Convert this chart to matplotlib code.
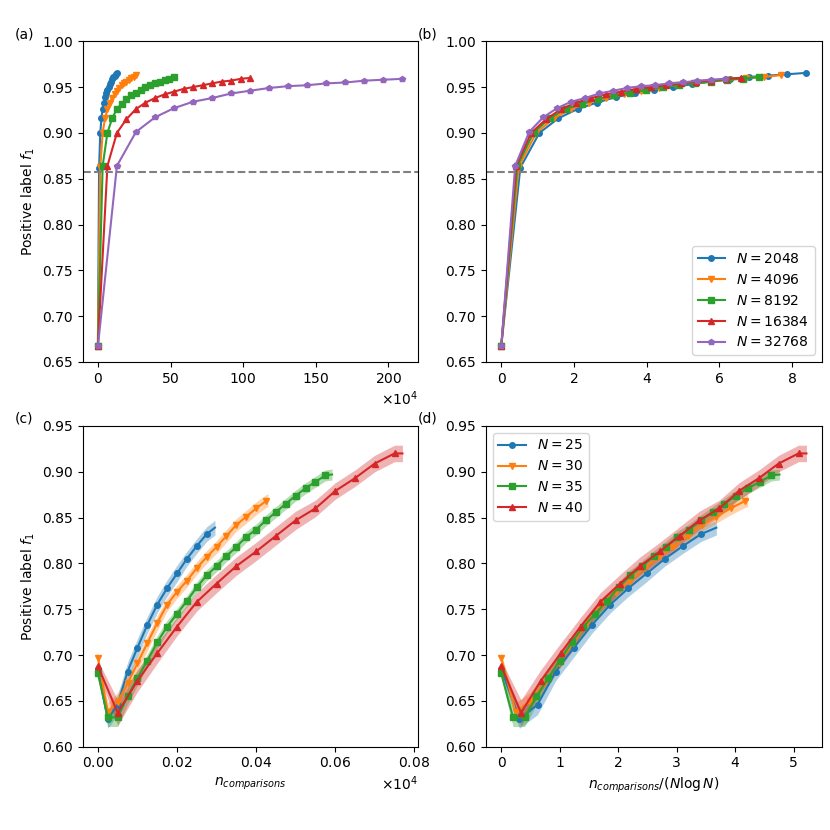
import numpy as np
import matplotlib
matplotlib.use("Agg")
import matplotlib.pyplot as plt

# ---- top row: large N, f1 after each round of 4N comparisons
sizes_big = [2048, 4096, 8192, 16384, 32768]
rounds = [0, 1, 2, 3, 4, 5, 6, 7, 8, 9, 10, 11, 12, 13, 14, 15, 16]
f1_big = {
    2048:  [0.667, 0.862, 0.900, 0.916, 0.926, 0.933, 0.939, 0.943, 0.947,
            0.950, 0.953, 0.956, 0.959, 0.961, 0.9625, 0.964, 0.9655],
    4096:  [0.667, 0.863, 0.900, 0.916, 0.926, 0.933, 0.938, 0.942, 0.946,
            0.949, 0.952, 0.954, 0.956, 0.958, 0.960, 0.961, 0.963],
    8192:  [0.667, 0.864, 0.900, 0.916, 0.926, 0.932, 0.937, 0.941, 0.944,
            0.947, 0.950, 0.952, 0.954, 0.956, 0.958, 0.959, 0.961],
    16384: [0.667, 0.864, 0.900, 0.915, 0.926, 0.933, 0.938, 0.942, 0.945,
            0.948, 0.950, 0.952, 0.954, 0.956, 0.957, 0.959, 0.960],
    32768: [0.667, 0.864, 0.901, 0.917, 0.927, 0.934, 0.938, 0.943, 0.946,
            0.949, 0.951, 0.952, 0.954, 0.955, 0.957, 0.958, 0.959],
}
comparisons_per_round = 4  # times N
baseline = 0.857

# ---- bottom row: small N, mean f1 with spread
sizes_small = [25, 30, 35, 40]
comp_small = {
    25: [0, 25, 50, 75, 100, 125, 150, 175, 200, 225, 250, 275, 296],
    30: [0, 25, 50, 75, 100, 125, 150, 175, 200, 225, 250, 275, 300, 325,
         350, 375, 400, 425, 430],
    35: [0, 25, 50, 75, 100, 125, 150, 175, 200, 225, 250, 275, 300, 325,
         350, 375, 400, 425, 450, 475, 500, 525, 550, 575, 592],
    40: [0, 50, 100, 150, 200, 250, 300, 350, 400, 450, 500, 550, 600, 650,
         700, 750, 770],
}
f1_small = {
    25: [0.685, 0.630, 0.646, 0.682, 0.708, 0.733, 0.755, 0.773, 0.789,
         0.805, 0.819, 0.832, 0.839],
    30: [0.697, 0.638, 0.649, 0.669, 0.691, 0.713, 0.735, 0.755, 0.769,
         0.781, 0.795, 0.807, 0.818, 0.830, 0.842, 0.851, 0.860, 0.868, 0.869],
    35: [0.680, 0.632, 0.632, 0.655, 0.675, 0.694, 0.714, 0.731, 0.745,
         0.759, 0.774, 0.787, 0.797, 0.808, 0.818, 0.829, 0.837, 0.847,
         0.856, 0.865, 0.874, 0.882, 0.889, 0.896, 0.897],
    40: [0.688, 0.637, 0.672, 0.702, 0.731, 0.758, 0.778, 0.797, 0.813,
         0.830, 0.847, 0.860, 0.879, 0.893, 0.909, 0.920, 0.920],
}
spread_small = {
    25: [0.006, 0.010, 0.011, 0.010, 0.010, 0.009, 0.009, 0.009, 0.009,
         0.008, 0.008, 0.008, 0.008],
    30: [0.005, 0.010, 0.010, 0.009, 0.008, 0.008, 0.008, 0.007, 0.007,
         0.007, 0.007, 0.007, 0.007, 0.007, 0.007, 0.007, 0.007, 0.007, 0.007],
    35: [0.005, 0.010, 0.010, 0.009, 0.008, 0.007, 0.007, 0.007, 0.006,
         0.006, 0.006, 0.006, 0.006, 0.006, 0.006, 0.006, 0.006, 0.006,
         0.006, 0.006, 0.006, 0.006, 0.006, 0.006, 0.006],
    40: [0.006, 0.014, 0.012, 0.011, 0.010, 0.010, 0.010, 0.010, 0.010,
         0.010, 0.010, 0.009, 0.009, 0.009, 0.009, 0.009, 0.009],
}

colors = ["#1f77b4", "#ff7f0e", "#2ca02c", "#d62728", "#9467bd"]
markers = ["o", "v", "s", "^", "p"]

plt.rcParams["font.size"] = 10

fig = plt.figure(figsize=(8.3, 8.3))
ax_a = fig.add_axes([0.0996, 0.5639, 0.4036, 0.3864])
ax_b = fig.add_axes([0.5855, 0.5639, 0.4045, 0.3864])
ax_c = fig.add_axes([0.0996, 0.1004, 0.4036, 0.3864])
ax_d = fig.add_axes([0.5855, 0.1004, 0.4045, 0.3864])

for i, n in enumerate(sizes_big):
    comps = np.array(rounds) * comparisons_per_round * n
    ax_a.plot(comps, f1_big[n], color=colors[i], marker=markers[i], ms=4)
    ax_b.plot(comps / (n * np.log(n)), f1_big[n], color=colors[i],
              marker=markers[i], ms=4, label=f"$N = {n}$")

for ax in (ax_a, ax_b):
    ax.axhline(baseline, color="gray", ls="--", lw=1.5)
    ax.set_ylim(0.65, 1.0)

ax_a.ticklabel_format(style="sci", axis="x", scilimits=(4, 4), useMathText=True)
ax_a.set_ylabel("Positive label $f_1$")
ax_b.legend(loc="lower right", fontsize=10)

for i, n in enumerate(sizes_small):
    x = np.array(comp_small[n], dtype=float)
    y = np.array(f1_small[n])
    s = np.array(spread_small[n])
    xd = x / (n * np.log(n))
    for ax, xx in ((ax_c, x), (ax_d, xd)):
        ax.fill_between(xx, y - s, y + s, color=colors[i], alpha=0.35, lw=0)
        ax.plot(xx, y, color=colors[i], marker=markers[i], ms=4,
                markevery=slice(0, -1), label=f"$N = {n}$")

for ax in (ax_c, ax_d):
    ax.set_ylim(0.60, 0.95)

ax_c.ticklabel_format(style="sci", axis="x", scilimits=(4, 4), useMathText=True)
ax_c.set_ylabel("Positive label $f_1$")
ax_c.set_xlabel("$n_{comparisons}$")
ax_d.set_xlabel(r"$n_{comparisons}/(N\log N)$")
ax_d.legend(loc="upper left", fontsize=10)

fig.text(0.018, 0.958, "(a)", va="center")
fig.text(0.503, 0.958, "(b)", va="center")
fig.text(0.018, 0.496, "(c)", va="center")
fig.text(0.503, 0.496, "(d)", va="center")

fig.savefig("out.png", dpi=100)
